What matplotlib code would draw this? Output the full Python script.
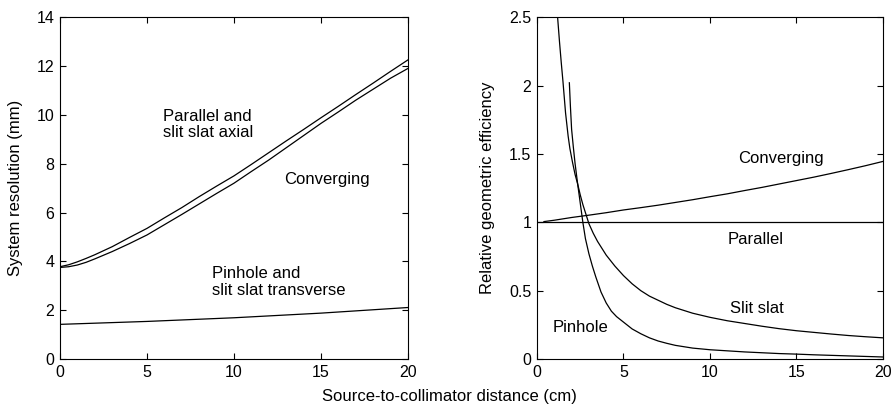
import matplotlib
matplotlib.use('Agg')
import matplotlib.pyplot as plt

plt.rcParams['font.family'] = ['Liberation Sans', 'DejaVu Sans']
plt.rcParams['font.size'] = 12

# Left panel: system resolution (mm) vs distance (cm)
dist = [0, 0.5, 1, 1.5, 2, 3, 4, 5, 6, 7, 8, 9, 10, 11, 12, 13, 14, 15, 16, 17, 18, 19, 20]
res_parallel = [3.78, 3.86, 3.98, 4.12, 4.27, 4.6, 4.98, 5.35, 5.78, 6.2, 6.65, 7.08, 7.5,
                7.97, 8.45, 8.93, 9.4, 9.88, 10.35, 10.83, 11.3, 11.78, 12.25]
res_converging = [3.75, 3.78, 3.85, 3.96, 4.1, 4.4, 4.73, 5.08, 5.5, 5.92, 6.35, 6.78, 7.2,
                  7.68, 8.15, 8.65, 9.15, 9.65, 10.12, 10.6, 11.05, 11.5, 11.9]
res_pinhole_x = [0, 5, 10, 15, 20]
res_pinhole = [1.42, 1.54, 1.69, 1.88, 2.11]

# Right panel: relative geometric efficiency
eff_conv_x = [0.4, 1, 2, 3, 4, 5, 6, 7, 8, 9, 10, 11, 12, 13, 14, 15, 16, 17, 18, 19, 20]
eff_converging = [1.005, 1.015, 1.035, 1.052, 1.07, 1.09, 1.107, 1.125, 1.145, 1.165, 1.187,
                  1.208, 1.232, 1.255, 1.28, 1.305, 1.33, 1.357, 1.385, 1.414, 1.445]
eff_par_x = [0, 20]
eff_parallel = [1.0, 1.0]
eff_slit_x = [1.19, 1.3, 1.4, 1.5, 1.65, 1.8, 1.9, 2.05, 2.2, 2.35, 2.5, 2.65, 2.8, 3.0,
              3.25, 3.5, 3.75, 4, 4.5, 5, 5.5, 6, 6.5, 7, 7.5, 8, 9, 10, 11, 12, 13, 14,
              15, 16, 17, 18, 19, 20]
eff_slit = [2.5, 2.32, 2.17, 2.03, 1.80, 1.63, 1.54, 1.44, 1.35, 1.28, 1.20, 1.13, 1.07,
            0.99, 0.92, 0.86, 0.81, 0.76, 0.68, 0.61, 0.55, 0.50, 0.46, 0.43, 0.40, 0.375,
            0.335, 0.305, 0.28, 0.26, 0.24, 0.222, 0.207, 0.195, 0.183, 0.172, 0.163, 0.155]
eff_pin_x = [1.87, 1.93, 2.0, 2.1, 2.2, 2.35, 2.5, 2.65, 2.8, 3.0, 3.2, 3.4, 3.7, 4.0, 4.3,
             4.6, 5, 5.5, 6, 6.5, 7, 7.5, 8, 9, 10, 11, 12, 13, 14, 15, 16, 17, 18, 19, 20]
eff_pinhole = [2.02, 1.85, 1.68, 1.55, 1.43, 1.28, 1.14, 1.0, 0.88, 0.77, 0.68, 0.60, 0.49,
               0.41, 0.35, 0.31, 0.27, 0.22, 0.185, 0.155, 0.132, 0.115, 0.10, 0.08, 0.068,
               0.06, 0.052, 0.046, 0.04, 0.036, 0.031, 0.027, 0.023, 0.019, 0.015]

fig = plt.figure(figsize=(8.91, 4.08), dpi=100)
ax1 = fig.add_axes([0.0673, 0.120, 0.3906, 0.838])
ax2 = fig.add_axes([0.6027, 0.120, 0.3883, 0.838])

lw = 0.9
ax1.plot(dist, res_parallel, color='black', linewidth=lw)
ax1.plot(dist, res_converging, color='black', linewidth=lw)
ax1.plot(res_pinhole_x, res_pinhole, color='black', linewidth=lw)
ax1.set_xlim(0, 20)
ax1.set_ylim(0, 14)
ax1.set_xticks([0, 5, 10, 15, 20])
ax1.set_yticks([0, 2, 4, 6, 8, 10, 12, 14])
ax1.set_ylabel('System resolution (mm)')
ax1.yaxis.set_label_coords(-0.105, 0.5)
ax1.text(5.9, 9.6, 'Parallel and\nslit slat axial', va='center', ha='left', linespacing=1.15)
ax1.text(12.9, 7.37, 'Converging', va='center', ha='left')
ax1.text(8.72, 3.15, 'Pinhole and\nslit slat transverse', va='center', ha='left', linespacing=1.15)

ax2.plot(eff_conv_x, eff_converging, color='black', linewidth=lw)
ax2.plot(eff_par_x, eff_parallel, color='black', linewidth=lw)
ax2.plot(eff_slit_x, eff_slit, color='black', linewidth=lw)
ax2.plot(eff_pin_x, eff_pinhole, color='black', linewidth=lw)
ax2.set_xlim(0, 20)
ax2.set_ylim(0, 2.5)
ax2.set_xticks([0, 5, 10, 15, 20])
ax2.set_yticks([0, 0.5, 1, 1.5, 2, 2.5])
ax2.set_yticklabels(['0', '0.5', '1', '1.5', '2', '2.5'])
ax2.set_ylabel('Relative geometric efficiency')
ax2.yaxis.set_label_coords(-0.121, 0.5)
ax2.text(11.6, 1.464, 'Converging', va='center', ha='left')
ax2.text(11.0, 0.872, 'Parallel', va='center', ha='left')
ax2.text(11.17, 0.372, 'Slit slat', va='center', ha='left')
ax2.text(0.88, 0.232, 'Pinhole', va='center', ha='left')

for ax in (ax1, ax2):
    ax.tick_params(direction='in', top=True, right=True, length=4, width=0.8, pad=4,
                   labelsize=11.5)
    for s in ax.spines.values():
        s.set_linewidth(0.8)

fig.text(0.504, 0.027, 'Source-to-collimator distance (cm)', ha='center', va='center')

fig.savefig('out.png', dpi=100)
